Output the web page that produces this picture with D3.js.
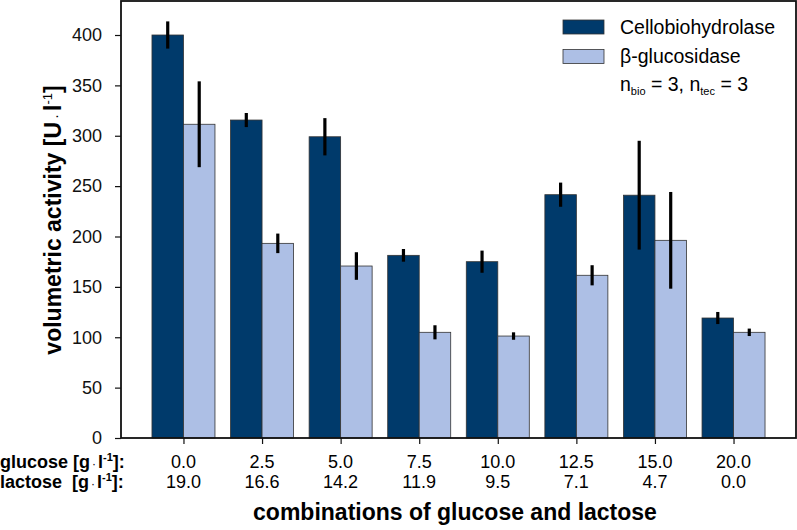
<!DOCTYPE html>
<html>
<head>
<meta charset="utf-8">
<script src="https://cdn.jsdelivr.net/npm/d3@7"></script>
<style>
  body { margin: 0; background: #fff; }
  text { font-family: "Liberation Sans", Arial, sans-serif; }
</style>
</head>
<body>
<svg id="chart" width="797" height="530"></svg>
<script>
const glucose = ["0.0", "2.5", "5.0", "7.5", "10.0", "12.5", "15.0", "20.0"]
const lactose = ["19.0", "16.6", "14.2", "11.9", "9.5", "7.1", "4.7", "0.0"]
const cbh = [400, 315.6, 299, 181.3, 175, 241.5, 241, 119.1]
const cbhErr = [13.5, 7, 18.5, 6.3, 11, 12, 54, 6]
const bgl = [311.4, 193.2, 170.7, 104.9, 101.2, 161.5, 196.2, 104.9]
const bglErr = [42.6, 9.7, 13.7, 7, 3.7, 10, 48, 3.7]
const yTicks = [0, 50, 100, 150, 200, 250, 300, 350, 400]

const svg = d3.select("#chart")
const pLeft = 121, pRight = 796, pTop = 1, pBottom = 438

const x = d3.scalePoint().domain(glucose).range([pLeft, pRight]).padding(0.795)
const y = d3.scaleLinear().domain([0, 400]).range([pBottom, 35])
const barW = 31.5

const series = [
  { name: "Cellobiohydrolase", values: cbh, err: cbhErr, color: "#003a6b", off: -barW },
  { name: "β-glucosidase", values: bgl, err: bglErr, color: "#adbfe5", off: 0 },
]

// bars
series.forEach((s) => {
  svg.append("g")
    .selectAll("rect")
    .data(s.values)
    .join("rect")
    .attr("x", (d, i) => x(glucose[i]) + s.off)
    .attr("y", (d) => y(d))
    .attr("width", barW)
    .attr("height", (d) => y(0) - y(d))
    .attr("fill", s.color)
    .attr("stroke", "#333")
    .attr("stroke-width", 0.8)
})

// error bars
series.forEach((s) => {
  svg.append("g")
    .selectAll("line")
    .data(s.values)
    .join("line")
    .attr("x1", (d, i) => x(glucose[i]) + s.off + barW / 2)
    .attr("x2", (d, i) => x(glucose[i]) + s.off + barW / 2)
    .attr("y1", (d, i) => y(d + s.err[i]))
    .attr("y2", (d, i) => y(d - s.err[i]))
    .attr("stroke", "#000")
    .attr("stroke-width", 3.2)
})

// frame
svg.append("rect")
  .attr("x", pLeft).attr("y", pTop)
  .attr("width", pRight - pLeft).attr("height", pBottom - pTop)
  .attr("fill", "none").attr("stroke", "#111").attr("stroke-width", 1.8)

// y axis
const yAxis = svg.append("g")
  .attr("transform", `translate(${pLeft},0)`)
  .call(d3.axisLeft(y).tickValues(yTicks).tickSize(6).tickPadding(13))
yAxis.select(".domain").remove()
yAxis.selectAll("line").attr("stroke", "#111").attr("stroke-width", 1.2)
yAxis.selectAll("text").style("font-size", "18px").attr("fill", "#111")

// x axis ticks
const xAxis = svg.append("g")
  .attr("transform", `translate(0,${pBottom})`)
  .call(d3.axisBottom(x).tickSize(6).tickFormat(""))
xAxis.select(".domain").remove()
xAxis.selectAll("line").attr("stroke", "#111").attr("stroke-width", 1.2)

// x category labels
svg.append("g")
  .selectAll("text")
  .data(glucose)
  .join("text")
  .attr("x", (d) => x(d))
  .attr("y", 468)
  .attr("text-anchor", "middle")
  .style("font-size", "18px")
  .text((d) => d)

svg.append("g")
  .selectAll("text")
  .data(lactose)
  .join("text")
  .attr("x", (d, i) => x(glucose[i]))
  .attr("y", 488)
  .attr("text-anchor", "middle")
  .style("font-size", "18px")
  .text((d) => d)

const rowLabel = (label, yPos, gap) => {
  const t = svg.append("text")
    .attr("x", 0).attr("y", yPos)
    .style("font-size", "18px").style("font-weight", "bold")
    .attr("xml:space", "preserve")
  t.append("tspan").text(label + gap + "[g")
  t.append("tspan").text("·").attr("dx", 2).style("font-weight", "normal").style("font-size", "12px")
  t.append("tspan").text("l").attr("dx", 2)
  t.append("tspan").text("-1").attr("dy", -7).style("font-size", "11px")
  t.append("tspan").text("]:").attr("dy", 7)
}
rowLabel("glucose", 468, " ")
rowLabel("lactose", 488, "  ")

// axis titles
svg.append("text")
  .attr("x", 455).attr("y", 520)
  .attr("text-anchor", "middle")
  .style("font-size", "23px").style("font-weight", "bold")
  .text("combinations of glucose and lactose")

const yt = svg.append("text")
  .attr("transform", `translate(61,220) rotate(-90)`)
  .attr("text-anchor", "middle")
  .style("font-size", "23px").style("font-weight", "bold")
yt.append("tspan").text("volumetric activity [U")
yt.append("tspan").text("·").attr("dx", 3).style("font-weight", "normal").style("font-size", "15px")
yt.append("tspan").text("l").attr("dx", 3)
yt.append("tspan").text("-1").attr("dy", -9).style("font-size", "13px").style("font-weight", "normal")
yt.append("tspan").text("]").attr("dy", 9)

// legend
const legend = svg.append("g")
series.forEach((s, i) => {
  legend.append("rect")
    .attr("x", 563).attr("y", 20 + i * 29.5)
    .attr("width", 41).attr("height", 14)
    .attr("fill", s.color).attr("stroke", "#333").attr("stroke-width", 0.8)
  legend.append("text")
    .attr("x", 620).attr("y", 34 + i * 29.3)
    .style("font-size", "19.5px")
    .text(s.name)
})
const note = legend.append("text").attr("x", 620).attr("y", 91).style("font-size", "19.5px")
note.append("tspan").text("n")
note.append("tspan").text("bio").attr("dy", 4).style("font-size", "11px")
note.append("tspan").text(" = 3, n").attr("dy", -4)
note.append("tspan").text("tec").attr("dy", 4).style("font-size", "11px")
note.append("tspan").text(" = 3").attr("dy", -4)
</script>
</body>
</html>
